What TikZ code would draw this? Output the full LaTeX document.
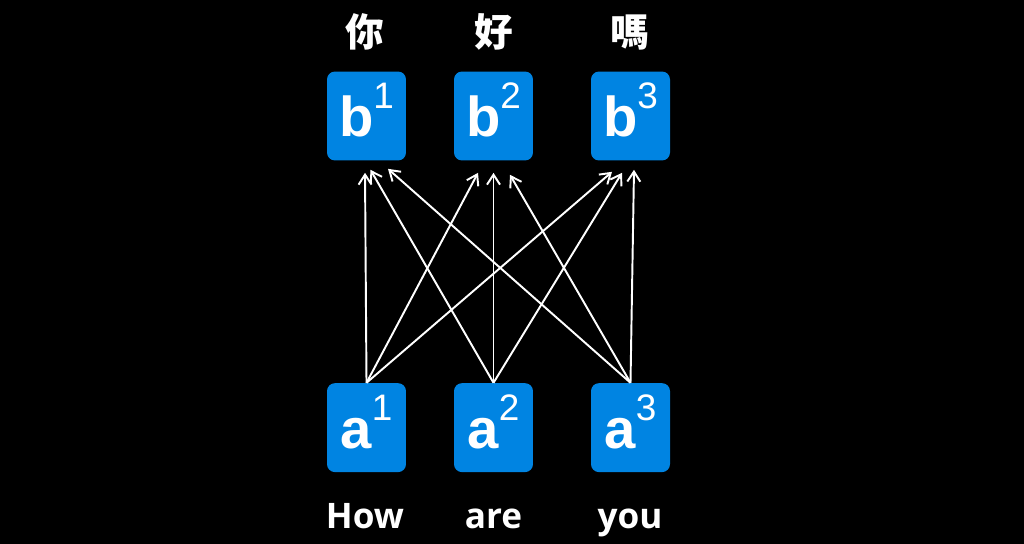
\documentclass[tikz,border=0pt]{standalone}
\usepackage{fontspec}
\setmainfont{Liberation Sans}
\newfontfamily\cjk{Noto Sans CJK TC}
\newfontfamily\wordfont{Open Sans}
\usepackage{tikz}
\usetikzlibrary{positioning}
\usetikzlibrary{arrows.meta}
\definecolor{boxblue}{RGB}{0,132,226}

\newcommand{\tok}[2]{{\fontsize{32}{32}\selectfont\bfseries #1}\raisebox{0.56cm}{\fontsize{21}{21}\selectfont #2}}

\begin{document}
\begin{tikzpicture}[
	  x=0.02cm, y=-0.02cm,
	  vecbox/.style = {shape=rectangle, rounded corners=0.16cm, fill=boxblue, text=white, minimum width=1.58cm, minimum height=1.78cm, inner sep=0pt, text height=0.82cm, text depth=0cm},
	  word/.style = {text=white, anchor=base, font=\wordfont\bfseries\fontsize{20}{20}\selectfont},
	  hanzi/.style = {text=white, anchor=base, font=\cjk\bfseries\fontsize{22}{22}\selectfont},
	  arr/.style = {draw=white, line width=1.1pt, -{Straight Barb[length=0.2cm, width=0.26cm]}}
	]

	  \fill[black] (0,0) rectangle (1024,544);

	  % output vectors
	  \node[vecbox] (b1) at (366.5,116) {\tok{b}{1}};
	  \node[vecbox] (b2) at (493.5,116) {\tok{b}{2}};
	  \node[vecbox] (b3) at (630.5,116) {\tok{b}{3}};

	  % input vectors
	  \node[vecbox, below=4.44cm of b1] (a1) {\tok{a}{1}};
	  \node[vecbox, below=4.44cm of b2] (a2) {\tok{a}{2}};
	  \node[vecbox, below=4.44cm of b3] (a3) {\tok{a}{3}};

	  \node[hanzi] (t1) at (365,47) {你};
	  \node[hanzi] (t2) at (494,47) {好};
	  \node[hanzi] (t3) at (630,47) {嗎};

	  \node[word] (w1) at (365,528) {How};
	  \node[word] (w2) at (493.5,528) {are};
	  \node[word] (w3) at (630,528) {you};

	  \draw[arr] (a1.north) -- ([xshift=-0.03cm, yshift=-0.24cm]b1.south);
	  \draw[arr] (a2.north) -- ([xshift=0.08cm, yshift=-0.18cm]b1.south);
	  \draw[arr] (a3.north) -- ([xshift=0.43cm, yshift=-0.16cm]b1.south);
	  \draw[arr] (a1.north) -- ([xshift=-0.31cm, yshift=-0.24cm]b2.south);
	  \draw[arr] (a2.north) -- ([xshift=0cm, yshift=-0.24cm]b2.south);
	  \draw[arr] (a3.north) -- ([xshift=0.33cm, yshift=-0.28cm]b2.south);
	  \draw[arr] (a1.north) -- ([xshift=-0.37cm, yshift=-0.22cm]b3.south);
	  \draw[arr] (a2.north) -- ([xshift=-0.17cm, yshift=-0.24cm]b3.south);
	  \draw[arr] (a3.north) -- ([xshift=0.07cm, yshift=-0.18cm]b3.south);
	\end{tikzpicture}
\end{document}
